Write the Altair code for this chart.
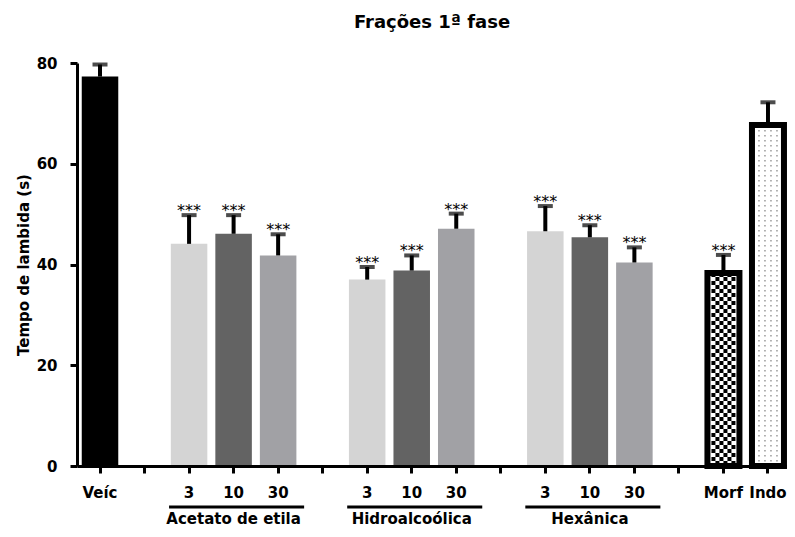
import altair as alt
import pandas as pd

# ---------------- data ----------------
slot_keys = ["Veíc", "gap1", "AE3", "AE10", "AE30", "gap2", "HA3", "HA10", "HA30",
             "gap3", "HX3", "HX10", "HX30", "gap4", "Morf", "Indo"]
slot_labels = ["Veíc", "", "3", "10", "30", "", "3", "10", "30",
               "", "3", "10", "30", "", "Morf", "Indo"]

bar_keys = ["Veíc", "AE3", "AE10", "AE30", "HA3", "HA10", "HA30",
            "HX3", "HX10", "HX30", "Morf", "Indo"]
means = [77.3, 44.1, 46.1, 41.8, 37.0, 38.8, 47.1, 46.6, 45.4, 40.4, 38.3, 67.7]
sems = [2.4, 5.7, 3.7, 4.2, 2.5, 3.0, 3.0, 5.0, 2.4, 3.0, 3.6, 4.5]
stars = ["", "***", "***", "***", "***", "***", "***", "***", "***", "***", "***", ""]

solid_keys = ["Veíc", "AE3", "AE10", "AE30", "HA3", "HA10", "HA30", "HX3", "HX10", "HX30"]
solid_colors = ["#000000", "#d4d4d4", "#636363", "#a1a1a5", "#d4d4d4", "#636363",
                "#a1a1a5", "#d4d4d4", "#636363", "#a1a1a5"]

group_names = ["Acetato de etila", "Hidroalcoólica", "Hexânica"]
group_first = ["AE3", "HA3", "HX3"]
group_mid = ["AE10", "HA10", "HX10"]
group_last = ["AE30", "HA30", "HX30"]

y_ticks = [0, 20, 40, 60, 80]

# ---------------- chart ----------------
FONT = "DejaVu Sans"

df = pd.DataFrame({"key": bar_keys, "mean": means, "sem": sems, "stars": stars})
groups = pd.DataFrame({"name": group_names, "first": group_first,
                       "mid": group_mid, "last": group_last})

label_expr = ("[" + ",".join("'%s'" % l for l in slot_labels) + "][indexof(["
              + ",".join("'%s'" % k for k in slot_keys) + "], datum.value)]")

xscale = alt.Scale(domain=slot_keys, paddingInner=0.18, paddingOuter=0.062, align=0.86)
yscale = alt.Scale(domain=[0, 80], nice=False)

x_axis = alt.Axis(title=None, labelExpr=label_expr, labelAngle=0, labelFont=FONT,
                  labelFontSize=15, labelFontWeight="bold", labelColor="black",
                  labelPadding=12, tickSize=7, tickWidth=3, tickColor="black",
                  domainWidth=3, domainColor="black", zindex=1)
y_axis = alt.Axis(title="Tempo de lambida (s)", values=y_ticks, labelFont=FONT,
                  labelFontSize=15, labelFontWeight="bold", labelColor="black",
                  labelPadding=13, tickSize=7, tickWidth=3, tickColor="black",
                  domainWidth=3, domainColor="black", grid=False, titleFont=FONT,
                  titleFontSize=15, titleFontWeight="bold", titleColor="black",
                  titlePadding=5, zindex=1)

base = alt.Chart(df)
X = alt.X("key:N", scale=xscale, axis=x_axis)
Y = alt.Y("mean:Q", scale=yscale, axis=y_axis)

solid = base.transform_filter(
    alt.FieldOneOfPredicate(field="key", oneOf=solid_keys)
).mark_bar().encode(
    x=X,
    y=Y,
    color=alt.Color("key:N", scale=alt.Scale(domain=solid_keys, range=solid_colors), legend=None),
)

pattern_base = base.transform_filter(alt.FieldOneOfPredicate(field="key", oneOf=["Morf", "Indo"]))
pat_fill = pattern_base.mark_bar(width=32, color="white").encode(x=X, y=Y)

layers = [solid, pat_fill]

# checkerboard for Morf
for i, off in enumerate([-10, -6, -2, 2, 6, 10]):
    layers.append(
        base.transform_filter(alt.datum.key == "Morf").mark_rule(
            strokeWidth=4, strokeDash=[4, 4], strokeDashOffset=4 * (i % 2),
            xOffset=off, color="black", strokeCap="butt"
        ).encode(x=X, y=Y, y2=alt.datum(0))
    )
# dots for Indo
for off in [-9, -3, 3, 9]:
    layers.append(
        base.transform_filter(alt.datum.key == "Indo").mark_rule(
            strokeWidth=1.5, strokeDash=[1.5, 3.5], xOffset=off,
            color="#9a9a9a", strokeCap="butt"
        ).encode(x=X, y=Y, y2=alt.datum(0))
    )

outline = pattern_base.mark_bar(width=32, fill="white", fillOpacity=0,
                                stroke="black", strokeWidth=6).encode(x=X, y=Y)

err = base.transform_calculate(top="datum.mean + datum.sem").mark_rule(
    strokeWidth=4, color="black").encode(x=X, y=Y, y2="top:Q")

caps = base.transform_calculate(top="datum.mean + datum.sem").mark_tick(
    size=15, thickness=4, color="black").encode(
    x=X, y=alt.Y("top:Q", scale=yscale, axis=y_axis))

star_text = base.transform_filter(alt.datum.stars != "").transform_calculate(
    top="datum.mean + datum.sem").mark_text(
    font=FONT, fontSize=16, baseline="alphabetic", dy=1, color="black").encode(
    x=X, y=alt.Y("top:Q", scale=yscale, axis=y_axis), text="stars:N")

grule = alt.Chart(groups).mark_rule(strokeWidth=3, color="black", xOffset=-20,
                                    x2Offset=26).encode(
    x=alt.X("first:N", scale=xscale, axis=x_axis), x2="last:N", y=alt.value(444))

glabel = alt.Chart(groups).mark_text(font=FONT, fontSize=15, fontWeight="bold",
                                     baseline="middle", color="black").encode(
    x=alt.X("mid:N", scale=xscale, axis=x_axis), y=alt.value(456), text="name:N")

layers += [outline, err, caps, star_text, grule, glabel]

chart = alt.layer(*layers).properties(
    width=710,
    height=403,
    title=alt.TitleParams("Frações 1ª fase", font=FONT, fontSize=18, fontWeight="bold",
                          color="black", anchor="middle", frame="group",
                          baseline="alphabetic", offset=10),
    padding={"left": 69, "top": 55, "right": 0, "bottom": 63},
    autosize=alt.AutoSizeParams(type="none"),
    background="white",
).configure_view(strokeWidth=0)

chart.save("out.html", embed_options={"renderer": "svg", "actions": False})
